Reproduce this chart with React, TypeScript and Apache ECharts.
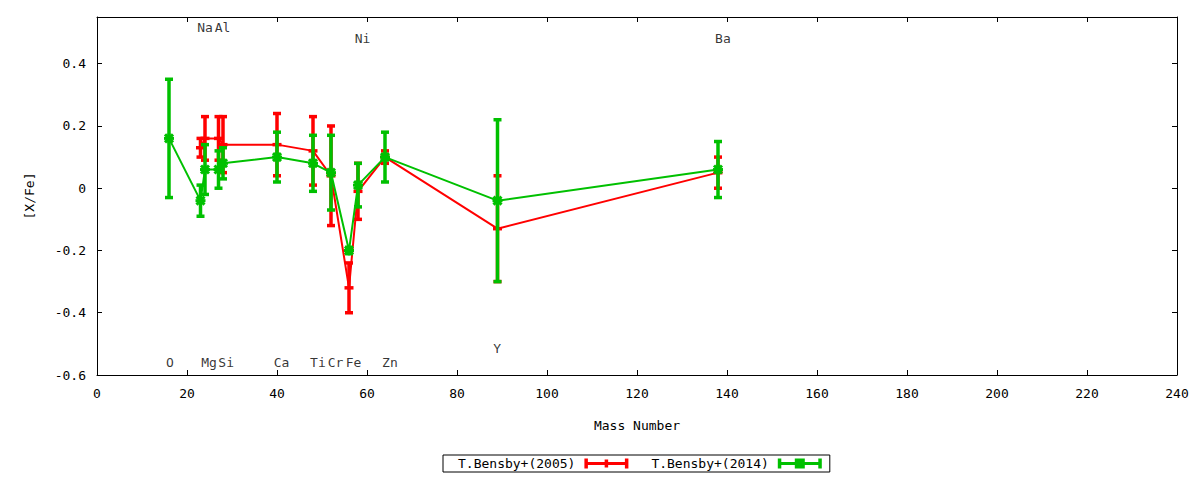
import React, { useEffect, useRef } from "react";
import * as echarts from "echarts";

// Mass numbers of the elements
const elements2005 = ["Na", "Mg", "Al", "Si", "Ca", "Ti", "Cr", "Fe", "Ni", "Zn", "Y", "Ba"];
const mass2005 = [23, 24, 27, 28, 40, 48, 52, 56, 58, 64, 89, 138];
const value2005 = [0.13, 0.16, 0.16, 0.14, 0.14, 0.12, 0.04, -0.32, -0.01, 0.1, -0.13, 0.05];
const error2005 = [0.03, 0.07, 0.07, 0.09, 0.1, 0.11, 0.16, 0.08, 0.09, 0.02, 0.17, 0.05];

const elements2014 = ["O", "Na", "Mg", "Al", "Si", "Ca", "Ti", "Cr", "Fe", "Ni", "Zn", "Y", "Ba"];
const mass2014 = [16, 23, 24, 27, 28, 40, 48, 52, 56, 58, 64, 89, 138];
const value2014 = [0.16, -0.04, 0.06, 0.06, 0.08, 0.1, 0.08, 0.05, -0.2, 0.01, 0.1, -0.04, 0.06];
const error2014 = [0.19, 0.05, 0.08, 0.06, 0.05, 0.08, 0.09, 0.12, 0.01, 0.07, 0.08, 0.26, 0.09];

// Element name labels (placed in data coordinates)
const labelNames = ["O", "Na", "Mg", "Al", "Si", "Ca", "Ti", "Cr", "Fe", "Ni", "Zn", "Y", "Ba"];
const labelX = [16.2, 24.0, 24.9, 27.9, 28.7, 41.0, 49.1, 53.0, 57.0, 59.0, 65.1, 88.9, 139.1];
const labelY = [-0.56, 0.515, -0.56, 0.515, -0.56, -0.56, -0.56, -0.56, -0.56, 0.48, -0.56, -0.515, 0.48];

const xTicks = { min: 0, max: 240, interval: 20 };
const yTicks = { min: -0.6, max: 0.55, interval: 0.2 };

const seriesNames = ["T.Bensby+(2005)", "T.Bensby+(2014)"];
const RED = "#ff0000";
const GREEN = "#00c000";
const FONT = "'DejaVu Sans Mono', monospace";

function makeErrorRender(color: string, star: boolean) {
  return (params: any, api: any) => {
    const x = api.value(0);
    const y = api.value(1);
    const e = api.value(2);
    const c = api.coord([x, y]);
    const t = api.coord([x, y + e]);
    const b = api.coord([x, y - e]);
    const lw = 3.5;
    const style = { stroke: color, lineWidth: lw, fill: null };
    const cap = 4;
    const children: any[] = [
      { type: "line", shape: { x1: c[0], y1: t[1], x2: c[0], y2: b[1] }, style },
      { type: "line", shape: { x1: c[0] - cap, y1: t[1], x2: c[0] + cap, y2: t[1] }, style },
      { type: "line", shape: { x1: c[0] - cap, y1: b[1], x2: c[0] + cap, y2: b[1] }, style },
    ];
    if (star) {
      const s = 5;
      const d = 4;
      const st = { stroke: color, lineWidth: 3, fill: null };
      children.push(
        { type: "line", shape: { x1: c[0] - s, y1: c[1], x2: c[0] + s, y2: c[1] }, style: st },
        { type: "line", shape: { x1: c[0], y1: c[1] - s, x2: c[0], y2: c[1] + s }, style: st },
        { type: "line", shape: { x1: c[0] - d, y1: c[1] - d, x2: c[0] + d, y2: c[1] + d }, style: st },
        { type: "line", shape: { x1: c[0] - d, y1: c[1] + d, x2: c[0] + d, y2: c[1] - d }, style: st }
      );
    } else {
      const s = 4.5;
      children.push({ type: "line", shape: { x1: c[0] - s, y1: c[1], x2: c[0] + s, y2: c[1] }, style });
    }
    return { type: "group", children };
  };
}

const iconRed =
  "path://M0,3.5h44v3H0z M0,0h3.5v10H0z M40.5,0h3.5v10h-3.5z M20.25,1h3.5v8h-3.5z";
const iconGreen =
  "path://M0,3.5h44v3H0z M0,0h3.5v10H0z M40.5,0h3.5v10h-3.5z M17,0h10v10H17z";

export default function App() {
  const ref = useRef<HTMLDivElement>(null);

  useEffect(() => {
    document.body.style.margin = "0";
    if (!ref.current) return;
    const chart = echarts.init(ref.current, undefined, { renderer: "svg" });

    const d2005 = mass2005.map((m, i) => [m, value2005[i], error2005[i], elements2005[i]]);
    const d2014 = mass2014.map((m, i) => [m, value2014[i], error2014[i], elements2014[i]]);
    const labelData = labelNames.map((n, i) => ({ name: n, value: [labelX[i], labelY[i]] }));

    const axisText = { color: "#000", fontFamily: FONT, fontSize: 13 };

    const option: any = {
      animation: false,
      backgroundColor: "#fff",
      grid: { left: 97, top: 17, width: 1080, height: 358, containLabel: false },
      legend: {
        left: 443,
        top: 455,
        orient: "horizontal",
        align: "right",
        padding: [2, 8, 2, 15],
        itemGap: 23,
        itemWidth: 44,
        itemHeight: 10,
        borderColor: "#000",
        borderWidth: 1,
        borderRadius: 0,
        textStyle: { color: "#000", fontFamily: FONT, fontSize: 13, padding: [0, 4, 0, 0] },
        data: [
          { name: seriesNames[0], icon: iconRed, itemStyle: { color: RED } },
          { name: seriesNames[1], icon: iconGreen, itemStyle: { color: GREEN } },
        ],
        selectedMode: false,
      },
      xAxis: [
        {
          type: "value",
          position: "bottom",
          ...xTicks,
          name: "Mass Number",
          nameLocation: "middle",
          nameGap: 44,
          nameTextStyle: axisText,
          axisLine: { show: true, onZero: false, lineStyle: { color: "#000", width: 1 } },
          axisTick: { show: true, inside: true, length: 5, lineStyle: { color: "#000" } },
          axisLabel: { ...axisText, margin: 12 },
          splitLine: { show: false },
        },
        {
          type: "value",
          position: "top",
          ...xTicks,
          axisLine: { show: true, onZero: false, lineStyle: { color: "#000", width: 1 } },
          axisTick: { show: true, inside: true, length: 5, lineStyle: { color: "#000" } },
          axisLabel: { show: false },
          splitLine: { show: false },
        },
      ],
      yAxis: [
        {
          type: "value",
          position: "left",
          ...yTicks,
          name: "[X/Fe]",
          nameLocation: "middle",
          nameGap: 61,
          nameTextStyle: axisText,
          axisLine: { show: true, onZero: false, lineStyle: { color: "#000", width: 1 } },
          axisTick: { show: true, inside: true, length: 5, lineStyle: { color: "#000" } },
          axisLabel: { ...axisText, margin: 11, showMaxLabel: false },
          splitLine: { show: false },
        },
        {
          type: "value",
          position: "right",
          ...yTicks,
          axisLine: { show: true, onZero: false, lineStyle: { color: "#000", width: 1 } },
          axisTick: { show: true, inside: true, length: 5, lineStyle: { color: "#000" } },
          axisLabel: { show: false },
          splitLine: { show: false },
        },
      ],
      series: [
        {
          name: "line2005",
          type: "line",
          xAxisIndex: 0,
          yAxisIndex: 0,
          data: d2005.map((d) => [d[0], d[1]]),
          symbol: "none",
          showSymbol: false,
          lineStyle: { color: RED, width: 2 },
          itemStyle: { color: RED },
          z: 2,
          silent: true,
        },
        {
          name: seriesNames[0],
          type: "custom",
          xAxisIndex: 0,
          yAxisIndex: 0,
          data: d2005,
          encode: { x: 0, y: 1 },
          renderItem: makeErrorRender(RED, false),
          itemStyle: { color: RED },
          z: 3,
          silent: true,
        },
        {
          name: "line2014",
          type: "line",
          xAxisIndex: 0,
          yAxisIndex: 0,
          data: d2014.map((d) => [d[0], d[1]]),
          symbol: "none",
          showSymbol: false,
          lineStyle: { color: GREEN, width: 2 },
          itemStyle: { color: GREEN },
          z: 4,
          silent: true,
        },
        {
          name: seriesNames[1],
          type: "custom",
          xAxisIndex: 0,
          yAxisIndex: 0,
          data: d2014,
          encode: { x: 0, y: 1 },
          renderItem: makeErrorRender(GREEN, true),
          itemStyle: { color: GREEN },
          z: 5,
          silent: true,
        },
        {
          name: "labels",
          type: "scatter",
          xAxisIndex: 0,
          yAxisIndex: 0,
          data: labelData,
          symbolSize: 1,
          itemStyle: { color: "rgba(0,0,0,0)" },
          label: {
            show: true,
            position: "inside",
            formatter: "{b}",
            color: "#000",
            fontFamily: FONT,
            fontSize: 13,
          },
          z: 6,
          silent: true,
        },
      ],
    };

    chart.setOption(option);
    return () => {
      chart.dispose();
    };
  }, []);

  return <div ref={ref} style={{ width: 1200, height: 480 }} />;
}
